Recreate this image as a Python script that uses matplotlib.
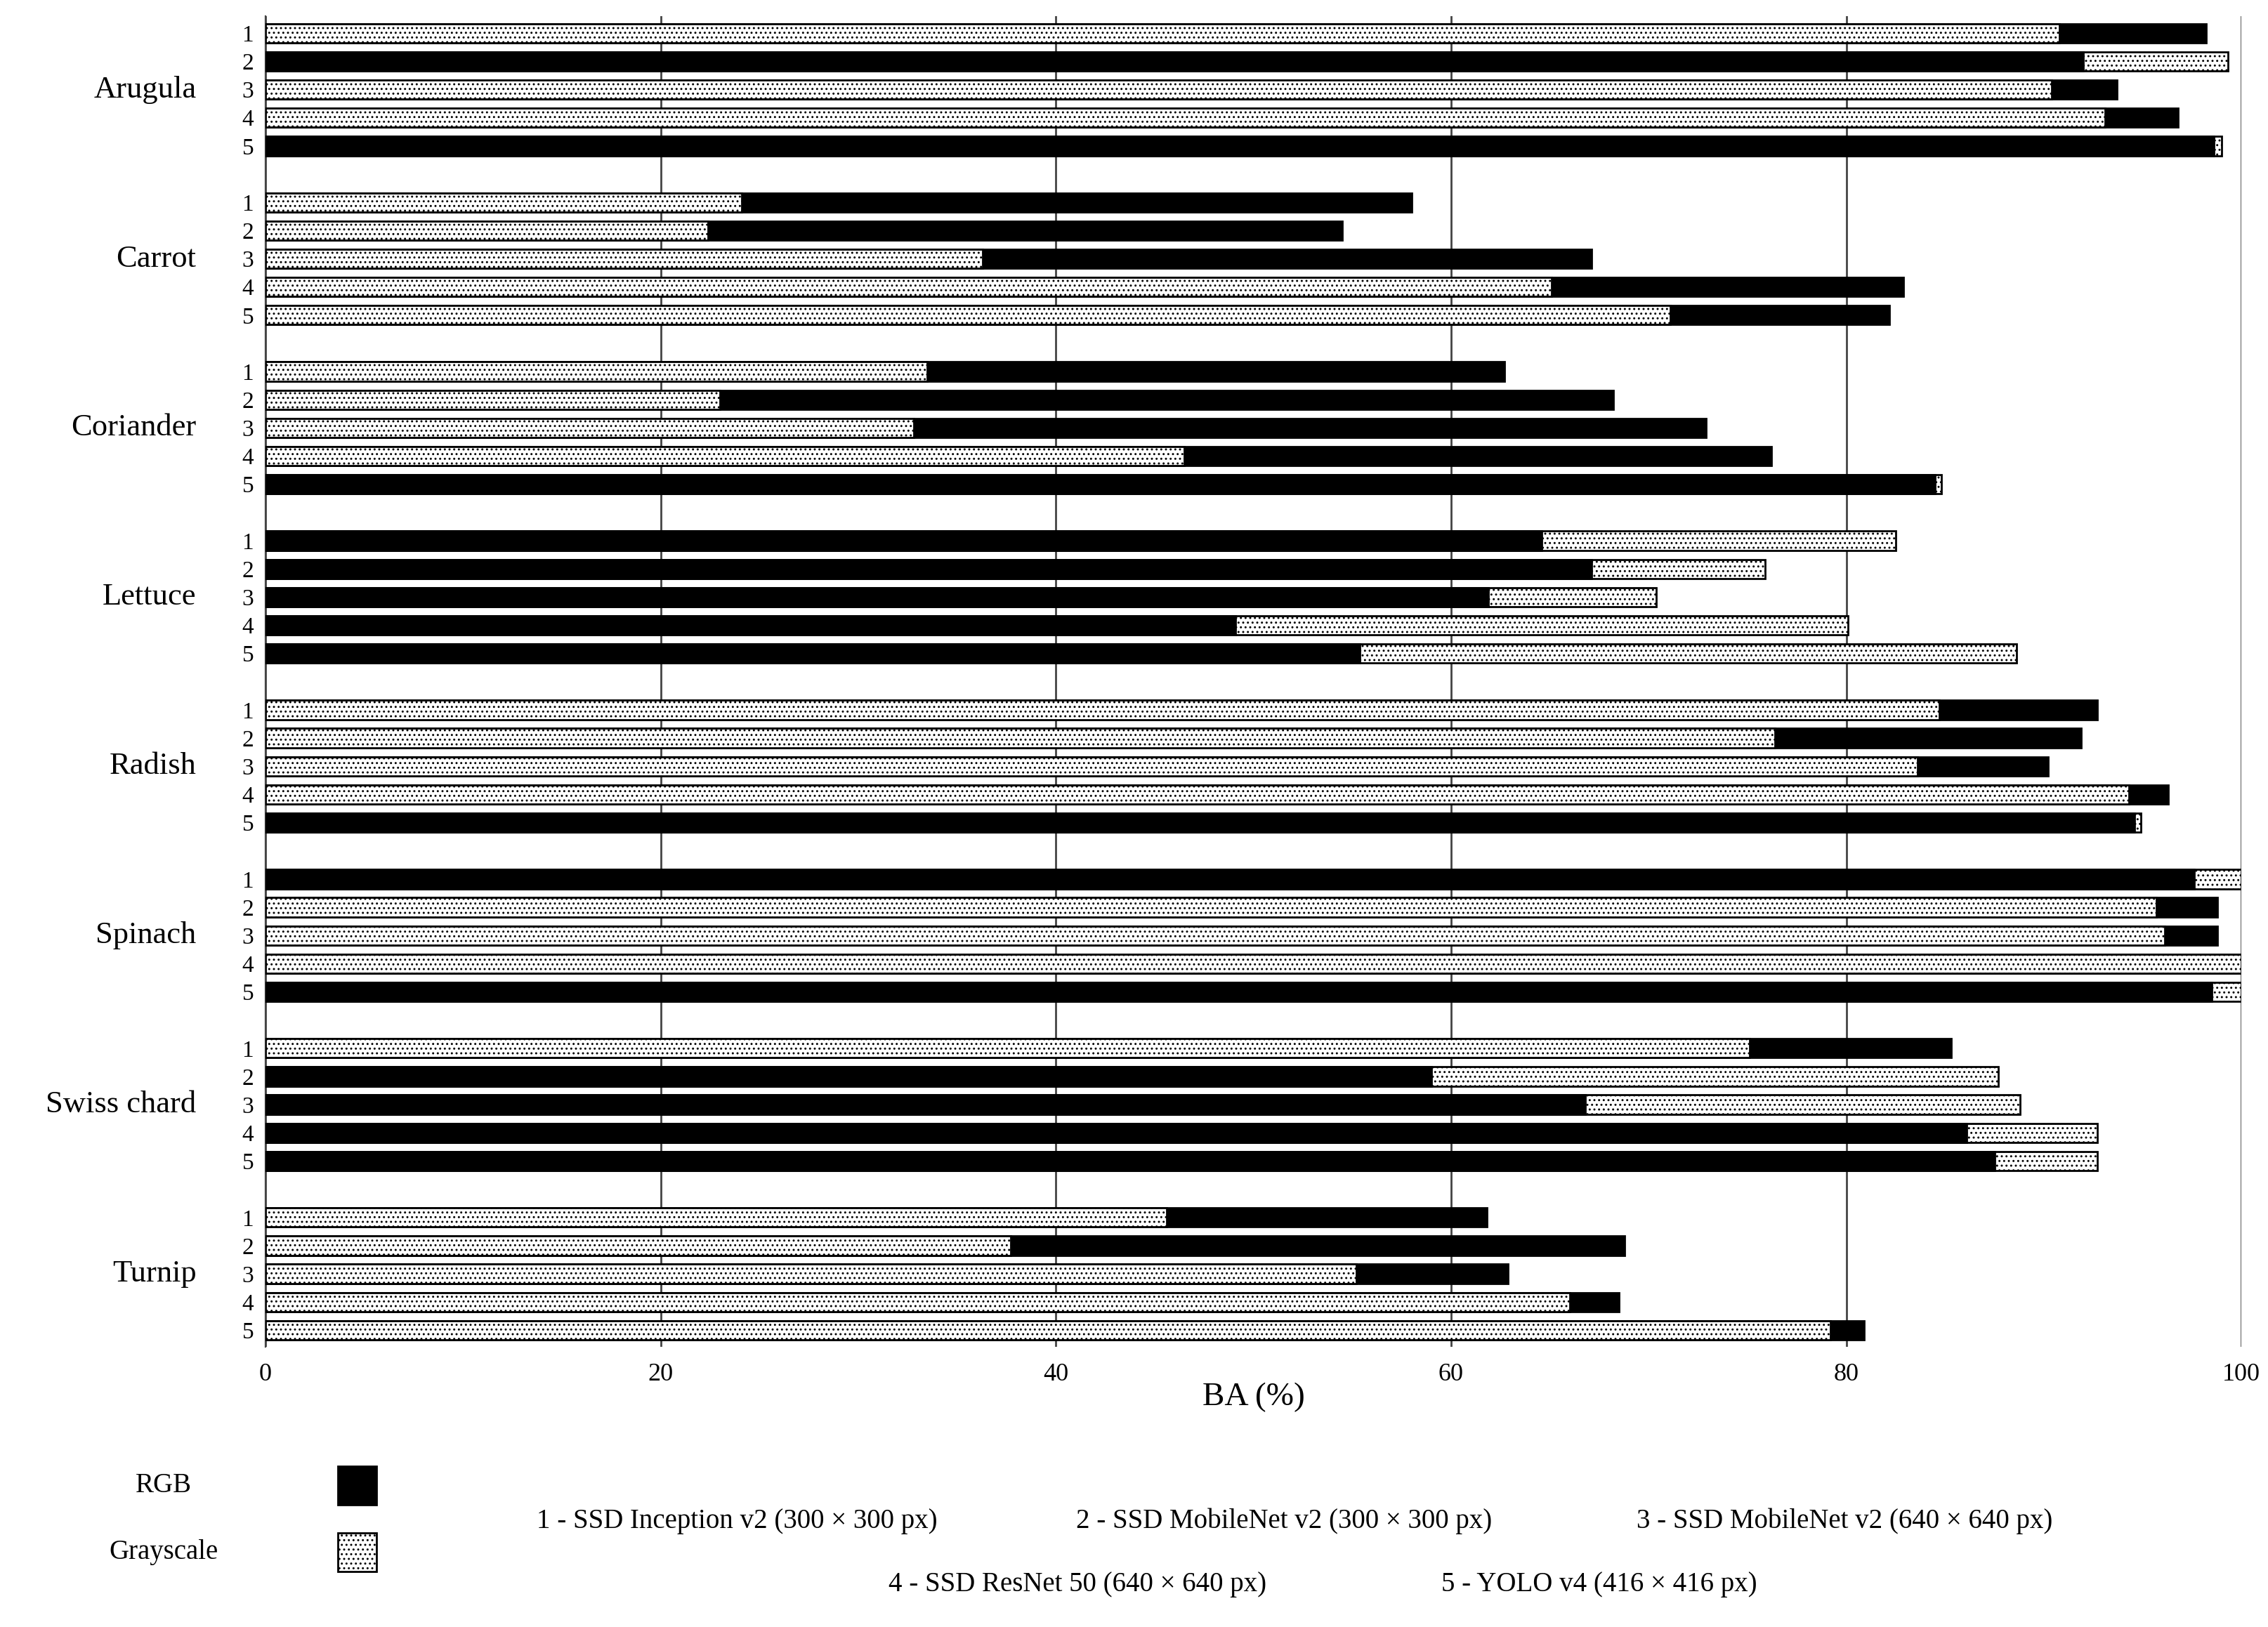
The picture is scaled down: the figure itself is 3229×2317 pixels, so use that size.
import numpy as np
import matplotlib
matplotlib.use('Agg')
import matplotlib.pyplot as plt
from matplotlib.patches import Rectangle

plt.rcParams['font.family'] = ['Liberation Serif', 'DejaVu Serif']
plt.rcParams['hatch.linewidth'] = 0.6

# ===== 数据 =====
crops = ['Arugula', 'Carrot', 'Coriander', 'Lettuce', 'Radish', 'Spinach', 'Swiss chard', 'Turnip']
rgb = [
    [98.2, 92.0, 93.7, 96.8, 98.6],
    [58.0, 54.5, 67.1, 82.9, 82.2],
    [62.7, 68.2, 72.9, 76.2, 84.5],
    [64.6, 67.1, 61.9, 49.1, 55.4],
    [92.7, 91.9, 90.2, 96.3, 94.6],
    [97.6, 98.8, 98.8, 100.0, 98.5],
    [85.3, 59.0, 66.8, 86.1, 87.5],
    [61.8, 68.8, 62.9, 68.5, 80.9],
]
gray = [
    [90.8, 99.3, 90.4, 93.1, 99.0],
    [24.1, 22.4, 36.3, 65.1, 71.1],
    [33.5, 23.0, 32.8, 46.5, 84.8],
    [82.5, 75.9, 70.4, 80.1, 88.6],
    [84.7, 76.4, 83.6, 94.3, 94.9],
    [100.0, 95.7, 96.1, 100.0, 100.0],
    [75.1, 87.7, 88.8, 92.7, 92.7],
    [45.6, 37.7, 55.2, 66.0, 79.2],
]
models = ['1 - SSD Inception v2 (300 × 300 px)', '2 - SSD MobileNet v2 (300 × 300 px)',
          '3 - SSD MobileNet v2 (640 × 640 px)', '4 - SSD ResNet 50 (640 × 640 px)',
          '5 - YOLO v4 (416 × 416 px)']

fig = plt.figure(figsize=(16.15, 11.585), dpi=200)
ax = fig.add_axes([0.117, 0.172, 0.871, 0.818])

h = 0.68
ticks, ticklabels = [], []
for g, crop in enumerate(crops):
    for r in range(5):
        y = g * 6 + r
        ticks.append(y)
        ticklabels.append(str(r + 1))
        vr, vg = rgb[g][r], gray[g][r]
        bars = [(vr, 'black', ''), (vg, 'white', '.....')]
        bars.sort(key=lambda b: -b[0])  # 长的在后面
        for val, fc, ht in bars:
            ax.barh(y, val, height=h, color=fc, edgecolor='black', hatch=ht, linewidth=1.0, zorder=3)
    ax.text(-0.035, g * 6 + 2, crop, transform=ax.get_yaxis_transform(),
            ha='right', va='center', fontsize=16)

ax.set_yticks(ticks)
ax.set_yticklabels(ticklabels, fontsize=12)
ax.tick_params(axis='y', length=0, pad=6)
ax.tick_params(axis='x', length=0, labelsize=13, pad=8)
ax.set_ylim(g * 6 + 4 + 0.6, -0.6)
ax.set_xlim(0, 100)
ax.set_xticks([0, 20, 40, 60, 80, 100])
ax.xaxis.grid(True, color='#444444', linewidth=1.0, zorder=0)
for s in ['top', 'right', 'bottom']:
    ax.spines[s].set_visible(False)
ax.spines['left'].set_color('#444444')
ax.set_xlabel('BA (%)', fontsize=17, labelpad=-2)

# ===== 图例 =====
fig.text(0.072, 0.087, 'RGB', fontsize=14, ha='center', va='center')
fig.text(0.072, 0.046, 'Grayscale', fontsize=14, ha='center', va='center')
fig.patches.append(Rectangle((0.149, 0.075), 0.017, 0.024, transform=fig.transFigure,
                             facecolor='black', edgecolor='black'))
fig.patches.append(Rectangle((0.149, 0.034), 0.017, 0.024, transform=fig.transFigure,
                             facecolor='white', edgecolor='black', hatch='.....'))
fig.text(0.325, 0.065, models[0], fontsize=14, ha='center', va='center')
fig.text(0.566, 0.065, models[1], fontsize=14, ha='center', va='center')
fig.text(0.813, 0.065, models[2], fontsize=14, ha='center', va='center')
fig.text(0.475, 0.026, models[3], fontsize=14, ha='center', va='center')
fig.text(0.705, 0.026, models[4], fontsize=14, ha='center', va='center')

plt.savefig('out.png', dpi=200)
